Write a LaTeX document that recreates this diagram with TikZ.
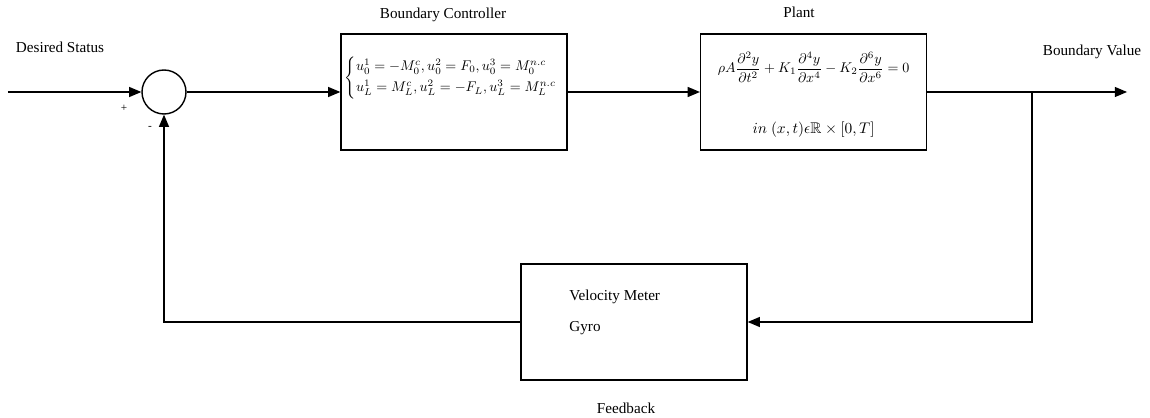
\documentclass[tikz,border=0pt]{standalone}
\usepackage{amsfonts, amsmath, amssymb}
\usepackage{fontspec}
\setmainfont{Liberation Serif}
\usetikzlibrary{arrows, arrows.meta}

\begin{document}
\begin{tikzpicture}[line width=1pt,
  blk/.style={draw, minimum width=5.65cm, minimum height=2.9cm},
  lbl/.style={font=\fontsize{10.8}{12}\selectfont}]

\useasboundingbox (0,0) rectangle (28.75,10.45);

\node[lbl](desired) at (1.5,9.275) {Desired Status};
\node[lbl](ctrltitle) at (11.075,10.075) {Boundary Controller};
\node[lbl](planttitle) at (19.975,10.15) {Plant};
\node[lbl](bval) at (27.3,9.15) {Boundary Value};
\node[lbl](fbtitle) at (15.65,0.25) {Feedback};
\node[font=\footnotesize](plus) at (3.1,7.75) {+};
\node[font=\footnotesize](minus) at (3.75,7.25) {-};

\node[draw, circle, minimum size=1.1cm, inner sep=0pt](sum) at (4.1,8.15) {};
\node[blk](ctrl) at (11.35,8.15) {};
\node[blk](plant) at (20.34,8.15) {};
\node[blk](fb) at (15.85,2.4) {};

\node[anchor=west, inner sep=0pt](ctrleq) at (8.6,8.5)
  {$\left\{\begin{array}{@{}l@{}}
  u_0^1=-M_0^c,u_0^2=F_0,u_0^3=M_0^{n.c}\\[3pt]
  u_L^1=M_L^c,u_L^2=-F_L,u_L^3=M_L^{n.c}
  \end{array}\right.$};
\node(planteq) at (20.34,8.775)
  {$\displaystyle \rho A\frac{\partial^2y}{\partial t^2}+K_1\frac{\partial^4y}{\partial x^4}-K_2\frac{\partial^6y}{\partial x^6}=0$};
\node[font=\fontsize{11}{13}\selectfont](domain) at (20.34,7.2) {$in\ (x,t)\epsilon\mathbb{R}\times[0,T]$};
\node[lbl, anchor=west](velo) at (14.1,3.025) {Velocity Meter};
\node[lbl, anchor=west](gyro) at (14.1,2.25) {Gyro};

\coordinate (in) at (0.2,8.15);
\coordinate (out) at (28.175,8.15);
\coordinate (br) at (25.8,8.15);

\draw[>=triangle 45, ->] (in) -- (sum.west);
\draw[>=triangle 45, ->] (sum.east) -- (ctrl.west);
\draw[>=triangle 45, ->] (ctrl.east) -- (plant.west);
\draw[>=triangle 45, ->] (plant.east) -- (out);
\draw[>=triangle 45, ->] (br) |- (fb.east);
\draw[>=triangle 45, ->] (fb.west) -| (sum.south);
\end{tikzpicture}
\end{document}
